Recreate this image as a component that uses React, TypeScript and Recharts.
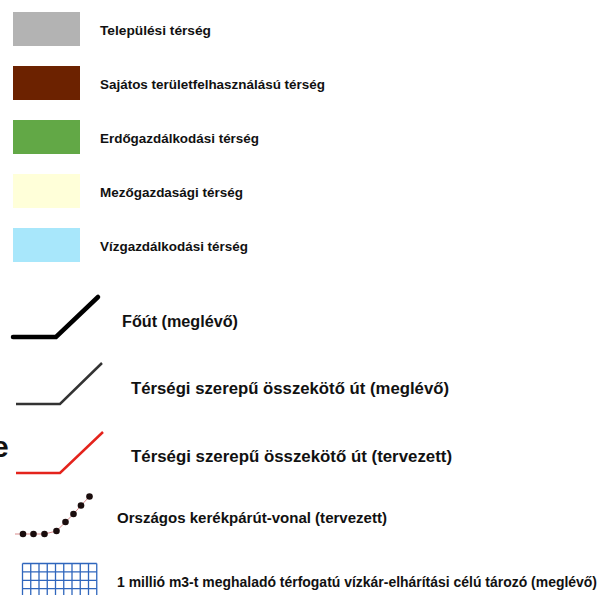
import { ComposedChart, Line, ReferenceArea, ReferenceLine, Scatter, XAxis, YAxis } from 'recharts';

// area categories (colour swatches)
const areaNames = [
  'Települési térség',
  'Sajátos területfelhasználású térség',
  'Erdőgazdálkodási térség',
  'Mezőgazdasági térség',
  'Vízgazdálkodási térség',
];
const areaColors = ['#b3b3b3', '#6c2200', '#62a846', '#ffffd9', '#a8e7fb'];
const areaLabelWidths = [111, 225, 159, 143, 148];

// line symbols
const roadNames = [
  'Főút (meglévő)',
  'Térségi szerepű összekötő út (meglévő)',
  'Térségi szerepű összekötő út (tervezett)',
];
const roadColors = ['#000000', '#333333', '#e4231c'];
const roadWidths = [4.5, 2.5, 2.5];
const roadLabelWidths = [116, 318, 321];

const bikeName = 'Országos kerékpárút-vonal (tervezett)';
const reservoirName = '1 millió m3-t meghaladó térfogatú vízkár-elhárítási célú tározó (meglévő)';

// glyph shapes
const roadShapes = [
  [{ x: 13, y: 337 }, { x: 56, y: 337 }, { x: 98, y: 297 }],
  [{ x: 16, y: 404 }, { x: 60, y: 404 }, { x: 102, y: 363 }],
  [{ x: 16, y: 473 }, { x: 60, y: 473 }, { x: 103, y: 432 }],
];
const bikeDots = [
  { x: 23, y: 534 }, { x: 33.5, y: 534 }, { x: 44.5, y: 534 }, { x: 56.5, y: 531 },
  { x: 65.5, y: 522 }, { x: 73.5, y: 514 }, { x: 81, y: 505.5 }, { x: 89.5, y: 496.5 },
];
const bikeLine = [{ x: 15, y: 534 }, ...bikeDots];

const W = 613;
const H = 595;
const FONT = '"Liberation Sans", Arial, sans-serif';

const gridXs = Array.from({ length: 10 }, (_, k) => 22.5 + k * 8.25);
const gridYs = Array.from({ length: 4 }, (_, k) => 563.5 + k * 8.4);

const labels = [
  ...areaNames.map((t, i) => ({ x: 100, y: 12 + i * 54 + 18, text: t, size: 13.5, width: areaLabelWidths[i] })),
  { x: 122, y: 321, text: roadNames[0], size: 16, width: roadLabelWidths[0] },
  { x: 131, y: 387.5, text: roadNames[1], size: 16.5, width: roadLabelWidths[1] },
  { x: 131, y: 456, text: roadNames[2], size: 16.5, width: roadLabelWidths[2] },
  { x: 117, y: 517, text: bikeName, size: 15, width: 270 },
  { x: 117, y: 581, text: reservoirName, size: 15, width: 480 },
  { x: -8, y: 446, text: 'e', size: 30, width: 0 },
];

const TextShape = (props: any) => {
  const { cx, cy, payload } = props;
  return (
    <text
      x={cx}
      y={cy}
      dominantBaseline="central"
      fontFamily={FONT}
      fontWeight="bold"
      fontSize={payload.size}
      fill="#111"
      {...(payload.width ? { textLength: payload.width, lengthAdjust: 'spacingAndGlyphs' } : {})}
    >
      {payload.text}
    </text>
  );
};

const Dot = (props: any) => <circle cx={props.cx} cy={props.cy} r={3.3} fill="#1a0d0d" />;

export default function App() {
  return (
    <div style={{ position: 'absolute', left: 0, top: 0, width: W, height: H, background: '#fff' }}>
      <ComposedChart width={W} height={H} margin={{ top: 0, right: 0, bottom: 0, left: 0 }}>
        <XAxis type="number" dataKey="x" domain={[0, W]} hide allowDataOverflow />
        <YAxis type="number" dataKey="y" domain={[0, H]} reversed hide allowDataOverflow />

        {areaColors.map((c, i) => (
          <ReferenceArea key={i} x1={13} x2={80} y1={12 + i * 54} y2={46 + i * 54} fill={c} fillOpacity={1} stroke="none" ifOverflow="visible" />
        ))}

        {roadShapes.map((pts, i) => (
          <Line
            key={i}
            data={pts}
            dataKey="y"
            type="linear"
            stroke={roadColors[i]}
            strokeWidth={roadWidths[i]}
            strokeLinecap={i === 0 ? 'round' : 'butt'}
            dot={false}
            activeDot={false}
            isAnimationActive={false}
          />
        ))}

        <Line data={bikeLine} dataKey="y" type="linear" stroke="#d98a8a" strokeWidth={1} dot={false} activeDot={false} isAnimationActive={false} />
        <Scatter data={bikeDots} dataKey="y" shape={Dot} isAnimationActive={false} />

        {gridXs.map((gx, k) => (
          <ReferenceLine key={'v' + k} segment={[{ x: gx, y: 563.5 }, { x: gx, y: H }]} stroke="#2f66bd" strokeWidth={1.3} ifOverflow="visible" />
        ))}
        {gridYs.map((gy, k) => (
          <ReferenceLine key={'h' + k} segment={[{ x: 22.5, y: gy }, { x: 96.75, y: gy }]} stroke="#2f66bd" strokeWidth={1.3} ifOverflow="visible" />
        ))}

        <Scatter data={labels} dataKey="y" shape={TextShape} isAnimationActive={false} />
      </ComposedChart>
    </div>
  );
}
